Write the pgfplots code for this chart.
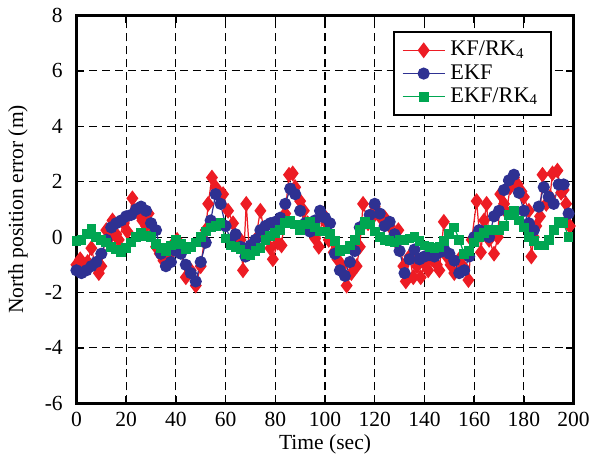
\documentclass[border=0pt]{standalone}
\usepackage{fontspec}
\setmainfont{Liberation Serif}
\usepackage{pgfplots}
\pgfplotsset{compat=1.18}
\usepackage{pgfplotstable}

\definecolor{kfred}{RGB}{237,28,36}
\definecolor{ekfblue}{RGB}{46,49,146}
\definecolor{rkgreen}{RGB}{0,166,81}

% KF/RK4
\pgfplotstableread{
t e
0 -1.0
1.5 -0.8
3 -1.1
4.5 -0.9
6 -0.4
7.5 -1.0
9 -1.3
10 -1.05
12 0.25
13.5 0.0
14.5 0.6
16 0.1
17 -0.1
19 0.5
20.5 0.2
22.5 1.4
24 0.95
25.5 0.8
26.5 0.6
28 0.4
29 0.85
30.5 0.35
32 -0.35
33.5 -0.6
35 -0.85
37 -0.7
38.5 -0.3
40.5 -0.1
42 -0.45
44 -1.45
46 -1.2
48 -1.75
50 -1.05
52 0.25
53 1.2
54.5 2.15
56 1.8
57.5 1.6
59 1.55
61 0.95
63 0.5
65 0.0
66 -0.1
67 -1.2
68.3 1.2
69.6 -0.55
72 -0.1
74 0.95
76 0.0
78 -0.4
79 -0.8
81 -0.2
82.5 -0.3
84 0.85
85.5 2.25
87 2.3
88 1.8
90 1.3
91.5 0.95
93 0.5
94.5 0.2
96 -0.05
97.5 -0.35
99 0.85
100.5 0.5
101.5 -0.1
103.5 -0.55
105 -0.8
107 -1.05
108.7 -1.75
110.6 -1.3
112.7 -1.05
114 -0.35
115.3 1.2
117.3 0.5
119 0.7
120 1.1
122 0.75
124 0.7
126 0.4
128 -0.1
129.5 0.25
131.5 -1.05
132.5 -1.6
134 -0.7
135.5 -1.45
137 -1.05
138.5 -1.45
140 -0.95
141.5 -1.2
143 -0.8
145 -1.0
146 -1.2
147.8 0.55
149 -0.7
150.5 -1.0
152 -1.3
154 -0.8
155.5 -1.05
157.7 -1.55
159 -0.1
161 1.3
162.7 -0.55
164 0.6
165 1.2
166 -0.1
168 -0.6
169.5 0.0
170.5 1.55
172 1.2
173 0.9
174.5 1.8
176 2.15
177.5 1.9
179 1.65
180 1.45
182 0.95
183 -0.7
184 0.0
185 0.4
186.5 0.75
187.5 2.25
189 1.2
190.5 1.45
191.5 2.3
193.5 2.4
195 1.6
196 1.7
197 1.2
198.5 0.4
}\kfdata

% EKF
\pgfplotstableread{
t e
0 -1.2
2 -1.3
4 -1.2
6 -1.05
8 -0.9
10 -0.6
12 -0.1
14 0.35
16 0.5
18 0.6
20 0.75
22 0.8
24 1.0
26 1.1
28 0.95
30 0.5
32 0.25
34 -0.6
36 -1.05
38 -0.9
40 -0.5
42 -0.6
44 -1.0
46 -1.3
48 -1.6
50 -0.9
52 -0.2
54 0.6
56 1.55
58 1.2
60 0.4
62 -0.1
64 0.1
66 -0.35
68 -0.7
70 -0.3
72 -0.1
74 0.25
76 0.4
78 0.5
80 0.55
82 0.7
84 1.2
86 1.75
88 1.55
90 0.95
92 0.5
94 0.2
96 0.6
98 0.95
100 0.7
102 0.5
104 -0.6
106 -1.2
108 -1.4
110 -0.9
112 -0.5
114 0.35
116 0.5
118 0.8
120 1.2
122 0.85
124 0.4
126 0.55
128 0.1
130 -0.5
132 -1.3
134 -0.8
136 -0.45
138 -0.8
140 -0.7
142 -0.65
144 -0.7
146 -0.55
148 -0.45
150 -0.6
152 -0.85
154 -1.3
156 -1.2
158 -0.7
160 0.0
162 0.25
164 0.1
166 0.0
168 0.75
170 0.95
172 1.7
174 2.05
176 2.25
178 1.6
180 0.95
182 0.5
184 0.25
186 1.1
188 1.8
190 1.45
192 1.2
194 1.9
196 1.9
198 0.85
}\ekfdata

% EKF/RK4
\pgfplotstableread{
t e
0 -0.15
2 -0.1
4 0.1
6 0.3
8 0.0
10 -0.1
12 -0.2
14 -0.35
16 -0.45
18 -0.55
20 -0.4
22 -0.2
24 0.0
26 0.15
28 0.05
30 0.0
32 -0.25
34 -0.4
36 -0.5
38 -0.3
40 -0.1
42 -0.25
44 -0.45
46 -0.35
48 -0.2
50 0.0
52 0.2
54 0.35
56 0.4
58 0.5
60 -0.05
62 -0.3
64 -0.35
66 -0.45
68 -0.6
70 -0.65
72 -0.5
74 -0.4
76 -0.1
78 0.05
80 0.15
82 0.25
84 0.5
86 0.6
88 0.45
90 0.25
92 0.45
94 0.55
96 0.35
98 0.2
100 0.2
102 0.1
104 -0.15
106 -0.5
108 -0.45
110 -0.3
112 -0.1
114 0.25
116 0.55
118 0.45
120 0.2
122 0.0
124 -0.1
126 -0.15
128 -0.2
130 -0.1
132 -0.1
134 -0.05
136 0.0
138 -0.15
140 -0.3
142 -0.35
144 -0.4
146 -0.35
148 -0.15
150 0.1
152 0.35
154 -0.1
156 -0.6
158 -0.5
160 -0.2
162 0.0
164 0.15
166 0.25
168 0.25
170 0.25
172 0.4
174 0.8
176 0.95
178 0.6
180 0.35
182 0.0
184 -0.15
186 -0.3
188 -0.3
190 -0.1
192 0.25
194 0.55
196 0.5
198 0.0
}\rkdata

\begin{document}
\begin{tikzpicture}
\begin{axis}[
    scale only axis,
    width=200bp, height=156bp,
    xmin=0, xmax=200, ymin=-6, ymax=8,
    xtick distance=20,
    ytick={-6,-4,...,8},
    font=\fontsize{8.7}{10}\selectfont,
    /pgf/number format/assume math mode=true,
    xlabel={Time (sec)},
    ylabel={North position error (m)},
    xlabel style={yshift=3.5bp},
    ylabel style={yshift=0bp},
    yticklabel style={xshift=-2bp},
    axis line style={line width=1bp},
    tick style={black, line width=0.6pt},
    tick align=inside,
    major tick length=3bp,
    grid=major,
    grid style={black, line width=0.45pt, dash pattern=on 3.2bp off 2bp},
    legend style={at={(rel axis cs:0.956,0.959)}, anchor=north east,
        draw=black, line width=0.8pt, inner xsep=3bp, inner ysep=1.5bp,
        font=\fontsize{9}{10.5}\selectfont, row sep=-2bp},
    legend cell align=left,
]
\addplot[kfred, line width=0.5pt, mark=diamond*, mark size=2.8bp,
    mark options={solid, fill=kfred, draw=kfred}] table[x=t, y=e] {\kfdata};
\addlegendentry{KF/RK\textsubscript{4}}
\addplot[ekfblue, line width=0.5pt, mark=*, mark size=2.2bp,
    mark options={solid, fill=ekfblue, draw=ekfblue}] table[x=t, y=e] {\ekfdata};
\addlegendentry{EKF}
\addplot[rkgreen, line width=0.5pt, mark=square*, mark size=1.7bp,
    mark options={solid, fill=rkgreen, draw=rkgreen}] table[x=t, y=e] {\rkdata};
\addlegendentry{EKF/RK\textsubscript{4}}
\end{axis}
\end{tikzpicture}
\end{document}
